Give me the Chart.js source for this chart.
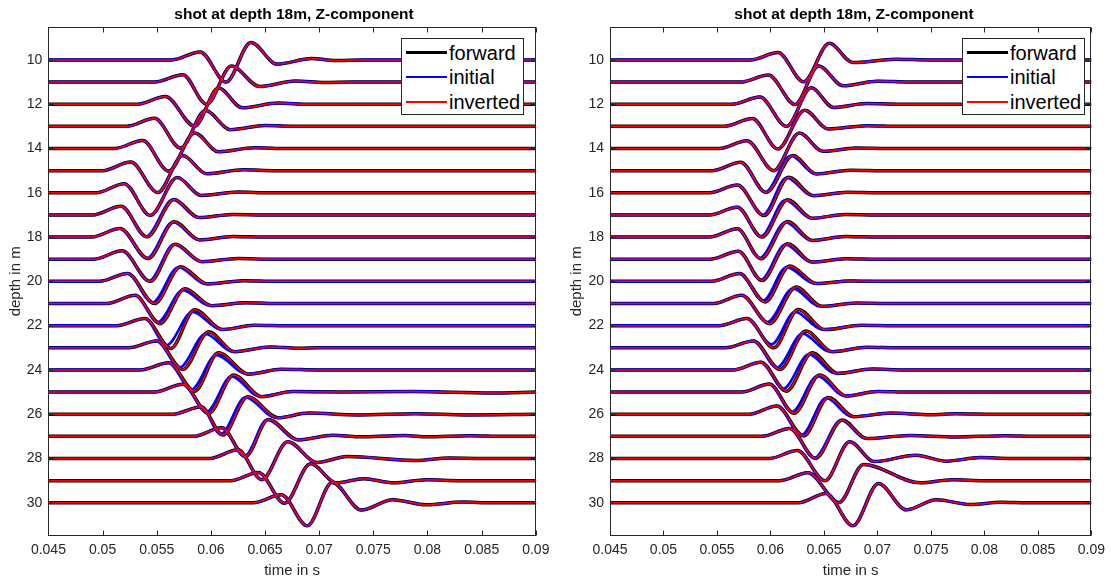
<!DOCTYPE html>
<html>
<head>
<meta charset="utf-8">
<script src="https://cdn.jsdelivr.net/npm/chart.js@4.4.1/dist/chart.umd.min.js"></script>
<style>
  body { margin: 0; background: #fff; width: 1111px; height: 581px; overflow: hidden; position: relative;
         font-family: "Liberation Sans", Arial, sans-serif; color: #262626; }
  canvas { position: absolute; top: 0; }
  .title { position: absolute; top: 5px; width: 400px; margin-left: -200px; text-align: center;
           font-weight: bold; font-size: 15.5px; line-height: 18px; color: #000; white-space: nowrap; }
  .legend { position: absolute; top: 37.7px; width: 123px; height: 77px; background: #fff;
            border: 1px solid #262626; box-sizing: border-box; padding-top: 2px; }
  .legend .row { position: relative; height: 24.5px; }
  .legend .swatch { position: absolute; left: 4px; width: 41px; }
  .legend .txt { position: absolute; left: 47px; top: 0; font-size: 20px; line-height: 24.5px; color: #000; }
</style>
</head>
<body>
<canvas id="leftPanel" width="556" height="581" style="left:0px"></canvas>
<canvas id="rightPanel" width="555" height="581" style="left:556px"></canvas>
<div class="title" style="left:294px">shot at depth 18m, Z-component</div>
<div class="title" style="left:854px">shot at depth 18m, Z-component</div>
<div class="legend" id="leftLegend" style="left:401px"></div>
<div class="legend" id="rightLegend" style="left:962px"></div>
<script>
// axis limits and ticks
const xLimits = [0.045, 0.09];
const yLimits = [8.5, 31.5];
const xTickValues = [0.045, 0.05, 0.055, 0.06, 0.065, 0.07, 0.075, 0.08, 0.085, 0.09];
const xTickLabels = ['0.045', '0.05', '0.055', '0.06', '0.065', '0.07', '0.075', '0.08', '0.085', '0.09'];
const yTickValues = [10, 12, 14, 16, 18, 20, 22, 24, 26, 28, 30];

// receiver depths, one trace each
const depths = [10, 11, 12, 13, 14, 15, 16, 17, 18, 19, 20, 21, 22, 23, 24, 25, 26, 27, 28, 29, 30];
const seriesNames = ['forward', 'initial', 'inverted'];

// trace key points [time in s, amplitude in m] (positive = up)
const leftForward = [
  [[0.0564,0],[0.0590,0.36],[0.0614,-1.00],[0.0637,0.79],[0.0661,-0.19],[0.0693,0.06],[0.0715,-0.03],[0.0740,0]],
  [[0.0548,0],[0.0574,0.33],[0.0596,-1.00],[0.0619,0.72],[0.0645,-0.20],[0.0678,0.05],[0.0705,-0.02],[0.0730,0]],
  [[0.0532,0],[0.0558,0.35],[0.0585,-0.99],[0.0607,0.73],[0.0629,-0.16],[0.0662,0.05],[0.0690,0]],
  [[0.0522,0],[0.0548,0.36],[0.0572,-0.98],[0.0595,0.71],[0.0618,-0.15],[0.0650,0.04],[0.0680,0]],
  [[0.0511,0],[0.0537,0.36],[0.0561,-1.02],[0.0585,0.70],[0.0607,-0.15],[0.0640,0.03],[0.0670,0]],
  [[0.0500,0],[0.0526,0.39],[0.0551,-0.99],[0.0574,0.68],[0.0596,-0.14],[0.0630,0.04],[0.0660,0]],
  [[0.0494,0],[0.0520,0.41],[0.0544,-1.02],[0.0569,0.69],[0.0591,-0.12],[0.0625,0.03],[0.0655,0]],
  [[0.0491,0],[0.0517,0.39],[0.0541,-0.99],[0.0566,0.70],[0.0589,-0.12],[0.0620,0.02],[0.0650,0]],
  [[0.0490,0],[0.0516,0.39],[0.0542,-0.97],[0.0566,0.69],[0.0590,-0.13],[0.0620,0.02],[0.0650,0]],
  [[0.0492,0],[0.0518,0.38],[0.0544,-1.00],[0.0567,0.68],[0.0592,-0.11],[0.0625,0.03],[0.0655,0]],
  [[0.0497,0],[0.0523,0.36],[0.0548,-1.00],[0.0572,0.66],[0.0597,-0.12],[0.0630,0.03],[0.0660,0]],
  [[0.0504,0],[0.0530,0.37],[0.0553,-0.91],[0.0576,0.67],[0.0601,-0.10],[0.0632,0.03],[0.0665,0]],
  [[0.0513,0],[0.0539,0.32],[0.0563,-1.03],[0.0585,0.72],[0.0611,-0.18],[0.0640,0.02],[0.0670,0]],
  [[0.0524,0],[0.0550,0.31],[0.0574,-0.98],[0.0598,0.72],[0.0622,-0.18],[0.0655,0.04],[0.0680,-0.02],[0.0700,0]],
  [[0.0535,0],[0.0561,0.32],[0.0585,-0.96],[0.0607,0.77],[0.0635,-0.19],[0.0665,0.03],[0.0700,0]],
  [[0.0548,0],[0.0574,0.35],[0.0598,-0.96],[0.0621,0.77],[0.0647,-0.21],[0.0675,0.02],[0.0720,0],[0.0786,0.03],[0.0859,-0.04]],
  [[0.0565,0],[0.0591,0.34],[0.0611,-0.94],[0.0634,0.79],[0.0662,-0.16],[0.0690,0.05],[0.0736,-0.03],[0.0789,0.02],[0.0836,-0.03]],
  [[0.0584,0],[0.0610,0.39],[0.0632,-0.91],[0.0653,0.76],[0.0681,-0.16],[0.0713,0.05],[0.0736,-0.02],[0.0779,0.04],[0.0800,-0.02],[0.0839,0.03],[0.0870,0]],
  [[0.0599,0],[0.0625,0.39],[0.0647,-0.96],[0.0671,0.76],[0.0698,-0.18],[0.0726,0.09],[0.0789,-0.09],[0.0820,0.02],[0.0850,0]],
  [[0.0618,0],[0.0644,0.37],[0.0668,-1.02],[0.0692,0.76],[0.0716,-0.10],[0.0741,0.09],[0.0769,-0.10],[0.0799,0.04],[0.0830,0]],
  [[0.0639,0],[0.0665,0.36],[0.0689,-1.04],[0.0712,0.92],[0.0739,-0.33],[0.0768,0.14],[0.0799,-0.09],[0.0832,0.03],[0.0860,0]]
];
// initial model traces where they visibly differ from forward
const leftInitial = {
  17: [[0.0491,0],[0.0517,0.39],[0.0540,-0.98],[0.0565,0.69],[0.0588,-0.12],[0.0620,0.02],[0.0650,0]],
  18: [[0.0490,0],[0.0516,0.39],[0.0541,-0.96],[0.0565,0.68],[0.0589,-0.13],[0.0620,0.02],[0.0650,0]],
  19: [[0.0492,0],[0.0518,0.38],[0.0543,-0.98],[0.0566,0.67],[0.0591,-0.11],[0.0625,0.03],[0.0655,0]],
  20: [[0.0497,0],[0.0523,0.36],[0.0546,-0.96],[0.0570,0.64],[0.0595,-0.12],[0.0630,0.03],[0.0660,0]],
  21: [[0.0504,0],[0.0530,0.37],[0.0551,-0.84],[0.0574,0.60],[0.0599,-0.10],[0.0632,0.03],[0.0665,0]],
  22: [[0.0513,0],[0.0539,0.32],[0.0559,-0.88],[0.0583,0.62],[0.0609,-0.17],[0.0640,0.02],[0.0670,0]],
  23: [[0.0524,0],[0.0550,0.31],[0.0571,-0.89],[0.0595,0.62],[0.0620,-0.17],[0.0655,0.04],[0.0680,-0.02],[0.0700,0]],
  24: [[0.0535,0],[0.0561,0.32],[0.0582,-0.88],[0.0605,0.67],[0.0633,-0.18],[0.0665,0.03],[0.0700,0]],
  25: [[0.0548,0],[0.0574,0.35],[0.0596,-0.89],[0.0619,0.71],[0.0645,-0.20],[0.0675,0.02],[0.0720,0],[0.0786,0.03],[0.0859,-0.04]],
  26: [[0.0565,0],[0.0591,0.34],[0.0609,-0.90],[0.0632,0.76],[0.0660,-0.16],[0.0690,0.05],[0.0736,-0.03],[0.0789,0.02],[0.0836,-0.03]],
  27: [[0.0584,0],[0.0610,0.39],[0.0631,-0.90],[0.0652,0.75],[0.0680,-0.16],[0.0713,0.05],[0.0736,-0.02],[0.0779,0.04],[0.0800,-0.02],[0.0839,0.03],[0.0870,0]]
};
// inverted traces sit on top of the forward ones
const leftInverted = leftForward;

const rightForward = [
  [[0.0581,0],[0.0607,0.33],[0.0631,-0.99],[0.0655,0.75],[0.0677,-0.12],[0.0717,0.03],[0.0750,0]],
  [[0.0572,0],[0.0598,0.32],[0.0623,-1.01],[0.0645,0.73],[0.0668,-0.17],[0.0700,0.04],[0.0730,0]],
  [[0.0564,0],[0.0590,0.33],[0.0615,-1.00],[0.0638,0.74],[0.0659,-0.15],[0.0690,0.03],[0.0720,0]],
  [[0.0557,0],[0.0583,0.35],[0.0607,-1.02],[0.0632,0.73],[0.0654,-0.12],[0.0690,0.03],[0.0720,0]],
  [[0.0552,0],[0.0578,0.35],[0.0603,-1.00],[0.0627,0.70],[0.0649,-0.13],[0.0680,0.02],[0.0710,0]],
  [[0.0546,0],[0.0572,0.38],[0.0596,-0.98],[0.0621,0.68],[0.0643,-0.15],[0.0675,0.02],[0.0705,0]],
  [[0.0543,0],[0.0569,0.35],[0.0594,-1.03],[0.0617,0.70],[0.0640,-0.13],[0.0672,0.02],[0.0700,0]],
  [[0.0543,0],[0.0569,0.35],[0.0592,-1.00],[0.0616,0.69],[0.0639,-0.15],[0.0670,0.02],[0.0700,0]],
  [[0.0543,0],[0.0569,0.37],[0.0591,-0.98],[0.0616,0.70],[0.0639,-0.15],[0.0670,0.02],[0.0700,0]],
  [[0.0544,0],[0.0570,0.36],[0.0592,-0.96],[0.0616,0.70],[0.0639,-0.13],[0.0670,0.02],[0.0700,0]],
  [[0.0545,0],[0.0571,0.35],[0.0595,-0.93],[0.0618,0.69],[0.0643,-0.10],[0.0675,0.02],[0.0705,0]],
  [[0.0547,0],[0.0573,0.37],[0.0599,-0.91],[0.0624,0.74],[0.0648,-0.13],[0.0680,0.02],[0.0710,0]],
  [[0.0552,0],[0.0578,0.32],[0.0603,-1.00],[0.0626,0.73],[0.0651,-0.18],[0.0685,0.02],[0.0715,0]],
  [[0.0558,0],[0.0584,0.31],[0.0609,-0.98],[0.0633,0.76],[0.0658,-0.18],[0.0690,0.02],[0.0720,0]],
  [[0.0565,0],[0.0591,0.35],[0.0615,-0.96],[0.0639,0.77],[0.0663,-0.16],[0.0695,0.04],[0.0725,0]],
  [[0.0573,0],[0.0599,0.36],[0.0622,-0.96],[0.0646,0.77],[0.0671,-0.18],[0.0700,0.03],[0.0730,0]],
  [[0.0580,0],[0.0606,0.37],[0.0631,-0.98],[0.0654,0.76],[0.0678,-0.11],[0.0713,0.05],[0.0750,-0.02],[0.0773,0.02],[0.0810,0]],
  [[0.0592,0],[0.0618,0.36],[0.0642,-0.99],[0.0667,0.74],[0.0690,-0.10],[0.0730,0.04],[0.0773,-0.03],[0.0819,0.03],[0.0850,0]],
  [[0.0599,0],[0.0625,0.36],[0.0651,-1.00],[0.0674,0.76],[0.0697,-0.14],[0.0736,0.15],[0.0764,-0.12],[0.0796,0.04],[0.0825,0]],
  [[0.0609,0],[0.0635,0.36],[0.0664,-0.99],[0.0687,0.73],[0.0740,-0.10],[0.0770,0.04],[0.0800,0]],
  [[0.0626,0],[0.0652,0.42],[0.0677,-1.04],[0.0701,0.87],[0.0727,-0.32],[0.0755,0.14],[0.0787,-0.08],[0.0815,0.02],[0.0840,0]]
];
const rightInitial = {
  15: [[0.0546,0],[0.0572,0.38],[0.0595,-0.97],[0.0619,0.67],[0.0642,-0.15],[0.0675,0.02],[0.0705,0]],
  16: [[0.0543,0],[0.0569,0.35],[0.0593,-1.00],[0.0615,0.68],[0.0639,-0.13],[0.0672,0.02],[0.0700,0]],
  17: [[0.0543,0],[0.0569,0.35],[0.0591,-0.97],[0.0614,0.67],[0.0638,-0.15],[0.0670,0.02],[0.0700,0]],
  18: [[0.0543,0],[0.0569,0.37],[0.0590,-0.95],[0.0614,0.67],[0.0638,-0.15],[0.0670,0.02],[0.0700,0]],
  19: [[0.0544,0],[0.0570,0.36],[0.0591,-0.93],[0.0614,0.66],[0.0638,-0.13],[0.0670,0.02],[0.0700,0]],
  20: [[0.0545,0],[0.0571,0.35],[0.0593,-0.88],[0.0615,0.64],[0.0641,-0.10],[0.0675,0.02],[0.0705,0]],
  21: [[0.0547,0],[0.0573,0.37],[0.0597,-0.83],[0.0621,0.67],[0.0646,-0.13],[0.0680,0.02],[0.0710,0]],
  22: [[0.0552,0],[0.0578,0.32],[0.0601,-0.84],[0.0623,0.62],[0.0648,-0.17],[0.0685,0.02],[0.0715,0]],
  23: [[0.0558,0],[0.0584,0.31],[0.0606,-0.89],[0.0630,0.64],[0.0655,-0.17],[0.0690,0.02],[0.0720,0]],
  24: [[0.0565,0],[0.0591,0.35],[0.0612,-0.84],[0.0636,0.70],[0.0660,-0.15],[0.0695,0.04],[0.0725,0]],
  25: [[0.0573,0],[0.0599,0.36],[0.0620,-0.89],[0.0644,0.72],[0.0669,-0.17],[0.0700,0.03],[0.0730,0]],
  26: [[0.0580,0],[0.0606,0.37],[0.0629,-0.95],[0.0652,0.73],[0.0676,-0.11],[0.0713,0.05],[0.0750,-0.02],[0.0773,0.02],[0.0810,0]],
  27: [[0.0592,0],[0.0618,0.36],[0.0641,-0.97],[0.0666,0.73],[0.0689,-0.10],[0.0730,0.04],[0.0773,-0.03],[0.0819,0.03],[0.0850,0]]
};
const rightInverted = rightForward;

const textColor = '#262626';
const styles = {
  forward:  { color: '#000000', width: 3.5, legendWidth: 3, order: 3 },
  initial:  { color: '#0000ff', width: 2.6, legendWidth: 2, order: 2 },
  inverted: { color: '#ff0000', width: 1.5, legendWidth: 2, order: 1 }
};

// one trace: baseline at its depth, amplitude pushes it up (smaller depth)
function buildTrace(depth, pts) {
  const data = [{ x: xLimits[0], y: depth }];
  pts.forEach(([t, a]) => data.push({ x: t, y: depth - a }));
  data.push({ x: xLimits[1], y: depth });
  return data;
}

// matlab style box with inward ticks on all four sides
const axesBox = {
  id: 'axesBox',
  afterDatasetsDraw(chart) {
    const { ctx, chartArea: a, scales: { x, y } } = chart;
    const L = Math.round(a.left) + 0.5, R = Math.round(a.right) - 0.5;
    const T = Math.round(a.top) + 0.5, B = Math.round(a.bottom) - 0.5;
    const len = 5;
    ctx.save();
    ctx.strokeStyle = textColor;
    ctx.lineWidth = 1;
    ctx.strokeRect(L, T, R - L, B - T);
    ctx.beginPath();
    xTickValues.forEach(v => {
      const px = Math.round(x.getPixelForValue(v)) + 0.5;
      ctx.moveTo(px, B); ctx.lineTo(px, B - len);
      ctx.moveTo(px, T); ctx.lineTo(px, T + len);
    });
    yTickValues.forEach(v => {
      const py = Math.round(y.getPixelForValue(v)) + 0.5;
      ctx.moveTo(L, py); ctx.lineTo(L + len, py);
      ctx.moveTo(R, py); ctx.lineTo(R - len, py);
    });
    ctx.stroke();
    ctx.restore();
  }
};

function makePanel(canvasId, forward, initial, inverted, yAxisWidth, padRight, yTitlePad) {
  const datasets = [];
  depths.forEach((d, i) => {
    const traces = {
      forward: forward[i],
      initial: initial[d] || forward[i],
      inverted: inverted[i]
    };
    seriesNames.forEach(name => {
      const s = styles[name];
      datasets.push({
        label: name,
        data: buildTrace(d, traces[name]),
        borderColor: s.color,
        borderWidth: s.width,
        order: s.order,
        pointRadius: 0,
        fill: false,
        cubicInterpolationMode: 'monotone'
      });
    });
  });

  new Chart(document.getElementById(canvasId).getContext('2d'), {
    type: 'line',
    data: { datasets },
    options: {
      responsive: false,
      animation: false,
      events: [],
      layout: { padding: { top: 26.7, right: padRight, left: 0, bottom: 0 } },
      plugins: { legend: { display: false }, tooltip: { enabled: false } },
      scales: {
        x: {
          type: 'linear', min: xLimits[0], max: xLimits[1],
          afterBuildTicks: s => { s.ticks = xTickValues.map(v => ({ value: v })); },
          afterFit: s => { s.height = 45; },
          grid: { display: false, drawTicks: false },
          border: { display: false },
          ticks: { callback: (v, i) => xTickLabels[i], autoSkip: false, maxRotation: 0,
                   padding: 6, color: textColor, font: { size: 14, family: 'Liberation Sans' } },
          title: { display: true, text: 'time in s', color: textColor,
                   font: { size: 15, family: 'Liberation Sans' }, padding: { top: 0, bottom: 1 } }
        },
        y: {
          type: 'linear', reverse: true, min: yLimits[0], max: yLimits[1],
          afterBuildTicks: s => { s.ticks = yTickValues.map(v => ({ value: v })); },
          afterFit: s => { s.width = yAxisWidth; },
          grid: { display: false, drawTicks: false },
          border: { display: false },
          ticks: { padding: 6, color: textColor, font: { size: 14, family: 'Liberation Sans' } },
          title: { display: true, text: 'depth in m', color: textColor,
                   font: { size: 15, family: 'Liberation Sans' }, padding: { top: yTitlePad, bottom: 0 } }
        }
      }
    },
    plugins: [axesBox]
  });
}

function makeLegend(id) {
  const box = document.getElementById(id);
  seriesNames.forEach(name => {
    const s = styles[name];
    const h = s.legendWidth;
    const row = document.createElement('div');
    row.className = 'row';
    row.innerHTML = `<div class="swatch" style="height:${h}px;top:${12.25 - h / 2}px;background:${s.color}"></div>
                     <div class="txt">${name}</div>`;
    box.appendChild(row);
  });
}

makePanel('leftPanel', leftForward, leftInitial, leftInverted, 48.4, 20.2, 7);
makePanel('rightPanel', rightForward, rightInitial, rightInverted, 54, 15, 12);
makeLegend('leftLegend');
makeLegend('rightLegend');
</script>
</body>
</html>
